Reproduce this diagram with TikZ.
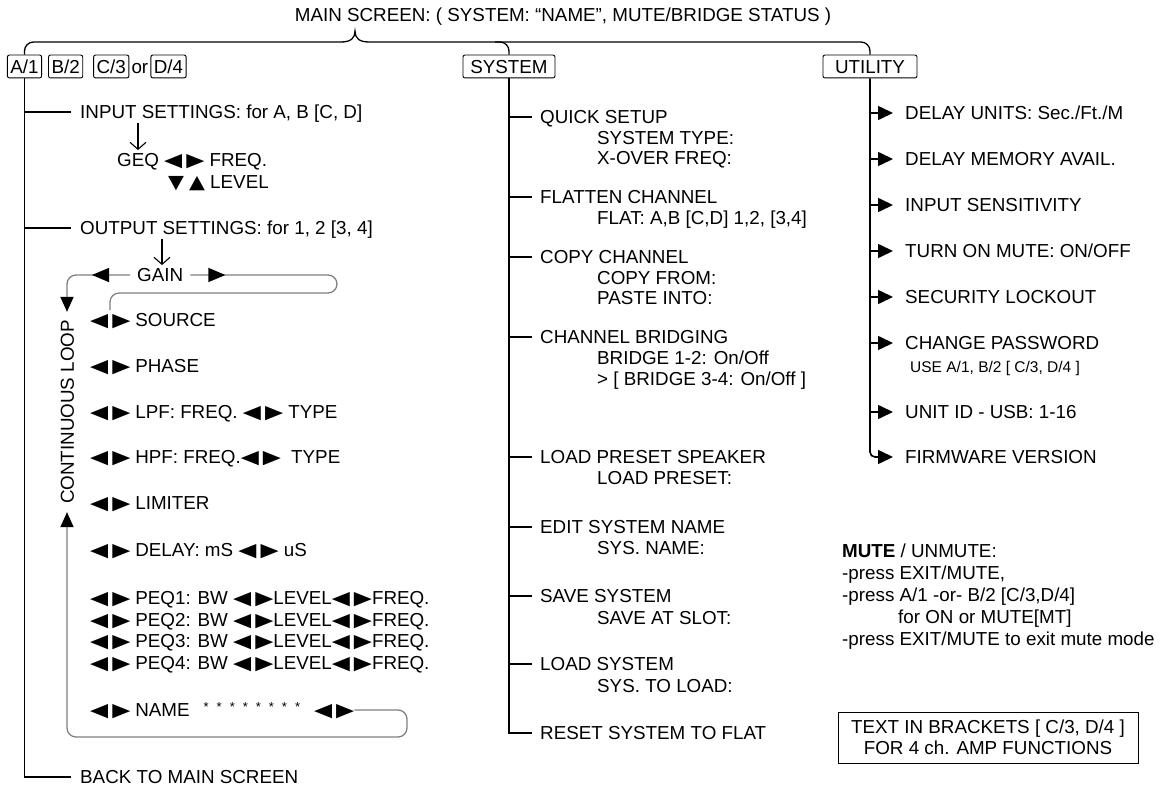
\documentclass[tikz,border=0pt]{standalone}
\usepackage{fontspec}
\usepackage{graphicx}
\setmainfont{Liberation Sans}
\newfontfamily\symfont{DejaVu Sans}
\usetikzlibrary{arrows.meta, positioning, decorations.markings}

\newcommand{\lfttri}{\scalebox{1.25}[1]{\symfont ◀}}
\newcommand{\rgttri}{\scalebox{1.25}[1]{\symfont ▶}}
\newcommand{\dntri}{\scalebox{1.1}[1]{\symfont ▼}}
\newcommand{\uptri}{\scalebox{1.1}[1]{\symfont ▲}}
\newcommand{\lr}{\lfttri\hspace{4pt}\rgttri}
\newcommand{\lrs}{\lr\hspace{5pt}}

\begin{document}
\begin{tikzpicture}[x=1pt, y=-1pt,
  item/.style={anchor=west, inner sep=0pt, text height=13.5pt, text depth=0pt, font=\fontsize{18.8}{21.5}\selectfont},
  keybox/.style={draw, rounded corners=2pt, line width=0.9pt, inner xsep=3pt, inner ysep=4.7pt, text height=13.5pt, text depth=0pt, font=\fontsize{18.8}{21.5}\selectfont},
  trunk/.style={line width=1.6pt},
  branch/.style={line width=1.6pt, shorten >=9pt},
  utilarrow/.style={line width=1.6pt, shorten >=12pt, -{Triangle[length=15pt,width=14pt]}},
  downarr/.style={line width=1.1pt, shorten <=4pt, shorten >=3pt, -{Straight Barb[length=7pt,width=16pt]}},
  loopline/.style={draw=black!50, line width=1.3pt, rounded corners=9pt},
  looptip/.style={-{Triangle[length=15pt,width=13pt,color=black]}},
  brace/.style={line width=1.3pt}
]
  \useasboundingbox (0,0) rectangle (1165,792);

  % header and brace
  \node[item, anchor=center] (title) at (563,15) {MAIN SCREEN: ( SYSTEM: “NAME”, MUTE/BRIDGE STATUS )};
  \coordinate (bar) at (355,42);
  \coordinate (peak) at (355,31);

  \node[keybox] (a1) at (24.5,66.5) {A/1};
  \node[keybox, right=6pt of a1] (b2) {B/2};
  \node[keybox, right=10pt of b2] (c3) {C/3};
  \node[item, right=2pt of c3] (orTxt) {or};
  \node[keybox, right=2pt of orTxt] (d4) {D/4};
  \node[keybox, minimum width=92pt] (sys) at (509,66.5) {SYSTEM};
  \node[keybox, minimum width=94pt] (util) at (870,66.5) {UTILITY};

  \draw[brace, rounded corners=9pt] (a1.north) |- ([xshift=-14pt]bar);
  \draw[brace] ([xshift=-14pt]bar) .. controls +(10,0) and +(0,7) .. (peak)
    .. controls +(0,7) and +(-10,0) .. ([xshift=14pt]bar);
  \draw[brace, rounded corners=9pt] ([xshift=14pt]bar) -| (util.north);
  \draw[brace, rounded corners=9pt] (sys.north) |- ([xshift=-14pt]sys.north |- bar);

  % A/1 ... D/4 column
  \node[item] (inp) at (80,112) {INPUT SETTINGS: for A, B [C, D]};
  \node[item] (geq) at (117,160) {GEQ \lr{} FREQ.};
  \node[item] (geqLvl) at (168,182) {\dntri\hspace{5pt}\uptri{} LEVEL};
  \node[item] (outp) at (80,228) {OUTPUT SETTINGS: for 1, 2 [3, 4]};
  \node[item] (gain) at (137,275) {GAIN};
  \node[item] (src) at (90,320) {\lrs SOURCE};
  \node[item] (phase) at (90,366) {\lrs PHASE};
  \node[item] (lpf) at (90,412) {\lrs LPF: FREQ. \lr{} TYPE};
  \node[item] (hpf) at (90,457) {\lrs HPF: FREQ.\lr{}\hspace{5pt} TYPE};
  \node[item] (lim) at (90,503) {\lrs LIMITER};
  \node[item] (dly) at (90,550) {\lrs DELAY: mS \lr{} uS};
  \foreach \n/\y in {1/598,2/619.5,3/641,4/662.5}
    \node[item] (peq\n) at (90,\y) {\lrs PEQ\n: BW \lr{}LEVEL\lr{}FREQ.};
  \node[item] (nameRow) at (90,710) {\lrs NAME\hspace{14pt}\raisebox{5pt}{\fontsize{13}{13}\selectfont *\hspace{8pt}*\hspace{8pt}*\hspace{8pt}*\hspace{8pt}*\hspace{8pt}*\hspace{8pt}*\hspace{8pt}*}\hspace{14pt}\lr};
  \node[item, anchor=center, rotate=90] (cl) at (67,412) {CONTINUOUS LOOP};
  \node[item] (back) at (80,777) {BACK TO MAIN SCREEN};

  \draw[trunk] (a1.south) |- ([xshift=-9pt]back.west);
  \foreach \b in {inp, outp}
    \draw[branch] (a1.south |- \b.west) -- (\b.west);
  \draw[downarr] ([xshift=58pt]inp.south west) -- ([xshift=21pt]geq.north west);
  \draw[downarr] ([xshift=82pt]outp.south west) -- ([xshift=25pt]gain.north west);

  % continuous loop
  \coordinate (loopR) at (337,293);
  \coordinate (loopBR) at (407,737);
  \draw[loopline, looptip, shorten >=8pt, postaction={decorate},
    decoration={markings, mark=at position 38pt with {\arrow{Triangle[length=17pt,width=14pt,color=black]}}}]
    ([xshift=-7pt]gain.west) -| (cl.east);
  \draw[loopline, postaction={decorate},
    decoration={markings, mark=at position 35pt with {\arrow{Triangle[length=17pt,width=14pt,color=black]}}}]
    ([xshift=7pt]gain.east) -| (loopR) -| ([xshift=20pt,yshift=3pt]src.north west);
  \draw[loopline, looptip, shorten >=8pt] (nameRow.east) -| (loopBR) -| (cl.west);

  % SYSTEM column
  \node[item] (qs) at (540,117) {QUICK SETUP};
  \node[item] (qs1) at (597,138) {SYSTEM TYPE:};
  \node[item] (qs2) at (597,158) {X-OVER FREQ:};
  \node[item] (flat) at (540,197) {FLATTEN CHANNEL};
  \node[item] (flat1) at (597,218) {FLAT: A,B [C,D] 1,2, [3,4]};
  \node[item] (copy) at (540,257) {COPY CHANNEL};
  \node[item] (copy1) at (597,278) {COPY FROM:};
  \node[item] (copy2) at (597,298) {PASTE INTO:};
  \node[item] (brdg) at (540,337) {CHANNEL BRIDGING};
  \node[item] (brdg1) at (597,358) {BRIDGE 1-2: On/Off};
  \node[item] (brdg2) at (597,379) {> [ BRIDGE 3-4: On/Off ]};
  \node[item] (lps) at (540,457) {LOAD PRESET SPEAKER};
  \node[item] (lps1) at (597,478) {LOAD PRESET:};
  \node[item] (esn) at (540,527) {EDIT SYSTEM NAME};
  \node[item] (esn1) at (597,548) {SYS. NAME:};
  \node[item] (save) at (540,596) {SAVE SYSTEM};
  \node[item] (save1) at (597,618) {SAVE AT SLOT:};
  \node[item] (lsys) at (540,664) {LOAD SYSTEM};
  \node[item] (lsys1) at (597,686) {SYS. TO LOAD:};
  \node[item] (reset) at (540,733) {RESET SYSTEM TO FLAT};

  \draw[trunk] (sys.south) |- ([xshift=-8pt]reset.west);
  \foreach \b in {qs, flat, copy, brdg, lps, esn, save, lsys}
    \draw[branch, shorten >=8pt] (sys.south |- \b.west) -- (\b.west);

  % UTILITY column
  \node[item] (du) at (905,113) {DELAY UNITS: Sec./Ft./M};
  \node[item] (dm) at (905,159) {DELAY MEMORY AVAIL.};
  \node[item] (ins) at (905,205) {INPUT SENSITIVITY};
  \node[item] (tom) at (905,251) {TURN ON MUTE: ON/OFF};
  \node[item] (sec) at (905,297) {SECURITY LOCKOUT};
  \node[item] (pw) at (905,343) {CHANGE PASSWORD};
  \node[item, text height=11pt, font=\fontsize{15.5}{18}\selectfont] (pw1) at (910,367) {USE A/1, B/2 [ C/3, D/4 ]};
  \node[item] (uid) at (905,412) {UNIT ID - USB: 1-16};
  \node[item] (fw) at (905,457) {FIRMWARE VERSION};

  \draw[utilarrow, rounded corners=5pt] (util.south) |- (fw.west);
  \foreach \b in {du, dm, ins, tom, sec, pw, uid}
    \draw[utilarrow] (util.south |- \b.west) -- (\b.west);

  % notes
  \node[anchor=north west, inner sep=0pt, align=left, font=\fontsize{18.8}{22}\selectfont] (mute) at (842,544) {%
    \textbf{MUTE} / UNMUTE:\\
    -press EXIT/MUTE,\\
    -press A/1 -or- B/2 [C/3,D/4]\\
    \hspace*{56pt}for ON or MUTE[MT]\\
    -press EXIT/MUTE to exit mute mode};
  \node[draw, line width=1pt, minimum width=300pt, minimum height=51pt, align=center, inner sep=0pt, font=\fontsize{18.8}{21}\selectfont] (note) at (988,737.5) {TEXT IN BRACKETS [ C/3, D/4 ]\\FOR 4 ch. AMP FUNCTIONS};
\end{tikzpicture}
\end{document}
